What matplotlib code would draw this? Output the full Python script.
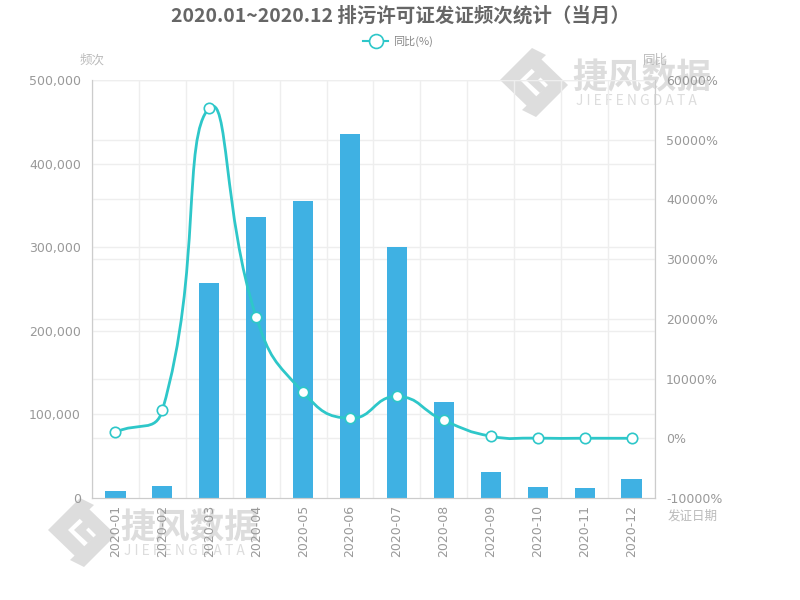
import numpy as np
import matplotlib
matplotlib.use("Agg")
import matplotlib.pyplot as plt
from matplotlib.path import Path
from matplotlib.patches import PathPatch, Polygon

months = ["2020-01", "2020-02", "2020-03", "2020-04", "2020-05", "2020-06",
          "2020-07", "2020-08", "2020-09", "2020-10", "2020-11", "2020-12"]
counts = [8400, 14300, 257000, 336000, 355000, 435000,
          300000, 115000, 31000, 13000, 12500, 22500]
yoy_pct = [1000, 4700, 55300, 20300, 7700, 3350,
           7000, 3000, 350, 30, 10, 0]

left_ticks = [0, 100000, 200000, 300000, 400000, 500000]
right_ticks = [-10000, 0, 10000, 20000, 30000, 40000, 50000, 60000]

barColor = "#3fb1e3"
lineColor = "#2ec7c9"
gridColor = "#eeeeee"
axisColor = "#cccccc"
textColor = "#999999"
markColor = "#dddddd"

plt.rcParams['font.family'] = ['DejaVu Sans', 'Noto Sans CJK SC']
cjk = ['Noto Sans CJK SC', 'DejaVu Sans']

#--------------------------------------------------------

def smooth_path(ax, xs, ys, smooth=0.5):
    # echarts-like bezier smoothing, computed in pixel space
    pts = ax.transData.transform(np.column_stack([xs, ys]))
    n = len(pts)
    verts = [pts[0]]
    codes = [Path.MOVETO]
    cps = []
    for i in range(n):
        prev = pts[i-1] if i > 0 else pts[i]
        nxt = pts[i+1] if i < n-1 else pts[i]
        v = (nxt - prev) * smooth
        d0 = np.hypot(*(pts[i] - prev))
        d1 = np.hypot(*(pts[i] - nxt))
        s = d0 + d1
        if s > 0:
            d0 /= s
            d1 /= s
        cps.append((pts[i] - v * d0, pts[i] + v * d1))
    for i in range(n-1):
        verts += [cps[i][1], cps[i+1][0], pts[i+1]]
        codes += [Path.CURVE4, Path.CURVE4, Path.CURVE4]
    verts = ax.transData.inverted().transform(np.array(verts))
    return Path(verts, codes)

#--------------------------------------------------------

def watermark(fig, px, py):
    # px, py: top-left of logo in pixels (from top-left of the figure)
    def pt(a, b):
        return ((px + a) / 800.0, 1 - (py + b) / 600.0)
    left = [pt(0, 35), pt(32, 3), pt(46, 10), pt(20, 35), pt(40, 55), pt(28, 62)]
    right = [pt(68, 40), pt(36, 72), pt(22, 65), pt(48, 40), pt(28, 20), pt(40, 13)]
    inner = [pt(26, 35), pt(40, 22), pt(46, 27), pt(38, 35), pt(46, 43), pt(40, 48)]
    for poly in (left, right, inner):
        fig.add_artist(Polygon(poly, closed=True, facecolor=markColor, edgecolor="none",
                               transform=fig.transFigure, zorder=-2))
    fig.text((px + 72) / 800.0, 1 - (py + 33) / 600.0, "捷风数据", ha="left", va="center",
             fontsize=25, fontweight="bold", color=markColor, family=cjk, zorder=-2)
    fig.text((px + 76) / 800.0, 1 - (py + 56) / 600.0, "J I E F E N G D A T A", ha="left",
             va="center", fontsize=10, color=markColor, family=cjk, zorder=-2)

#--------------------------------------------------------

fig = plt.figure(figsize=(8, 6), dpi=100)

watermark(fig, 500, 45)
watermark(fig, 48, 495)

ax = fig.add_axes([92/800, 1-498/600, (655-92)/800, (498-80)/600])
ax.patch.set_alpha(0)
ax2 = ax.twinx()

x = np.arange(len(months))

ax.set_xlim(-0.5, len(months)-0.5)
ax.set_ylim(0, 500000)
ax2.set_ylim(-10000, 60000)

# grid (all on the bar axes so it stays behind the bars)
for k in range(len(months)+1):
    ax.axvline(k-0.5, color=gridColor, lw=1, zorder=0)
for t in left_ticks[1:]:
    ax.axhline(t, color=gridColor, lw=1, zorder=0)
for t in right_ticks[1:]:
    ax.axhline((t + 10000) / 70000.0 * 500000, color=gridColor, lw=1, zorder=0)

ax.bar(x, counts, width=0.43, color=barColor, zorder=2)

ax.set_yticks(left_ticks)
ax.set_yticklabels(["{:,}".format(t) for t in left_ticks])
ax2.set_yticks(right_ticks)
ax2.set_yticklabels(["%d%%" % t for t in right_ticks])
ax.set_xticks(x)
ax.set_xticklabels(months, rotation=90)

for a in (ax, ax2):
    a.tick_params(length=0, colors=textColor, labelsize=9, pad=8)
    a.spines["top"].set_visible(False)
    for side in ("left", "right", "bottom"):
        a.spines[side].set_color(axisColor)
ax.tick_params(axis='x', pad=5)

path = smooth_path(ax2, x, yoy_pct)
ax2.add_patch(PathPatch(path, facecolor="none", edgecolor=lineColor, lw=2, zorder=3))
ax2.plot(x, yoy_pct, ls="none", marker="o", markersize=7.5, markerfacecolor="white",
         markeredgecolor=lineColor, markeredgewidth=1.2, zorder=4)

# axis names
fig.text(92/800, 1-60/600, "频次", ha="center", va="center", fontsize=9, color="#bbbbbb", family=cjk)
fig.text(655/800, 1-60/600, "同比", ha="center", va="center", fontsize=9, color="#bbbbbb", family=cjk)
fig.text(693/800, 1-516/600, "发证日期", ha="center", va="center", fontsize=9, color="#bbbbbb", family=cjk)

# title
fig.text(0.5, 1-16/600, "2020.01~2020.12 排污许可证发证频次统计（当月）", ha="center", va="center",
         fontsize=14, fontweight="bold", color="#666666", family=cjk)

# legend
lx0, lx1, ly = 363/800, 388/800, 1-41/600
fig.add_artist(plt.Line2D([lx0, lx1], [ly, ly], color=lineColor, lw=1.5))
fig.add_artist(plt.Line2D([(lx0+lx1)/2], [ly], marker="o", markersize=10,
                          markerfacecolor="white", markeredgecolor=lineColor, markeredgewidth=1.2))
fig.text(393/800, ly, "同比(%)", ha="left", va="center", fontsize=8, color="#888888", family=cjk)

fig.savefig("out.png", dpi=100)
